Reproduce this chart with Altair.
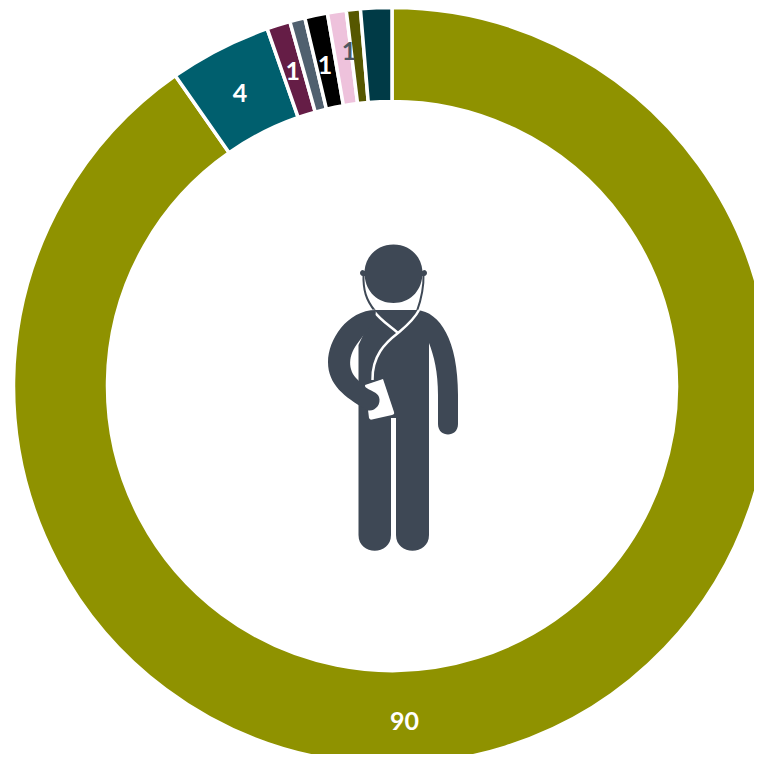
import altair as alt
import pandas as pd

segment_names = ["a", "b", "c", "d", "e", "f", "g", "h"]
segment_values = [90.3, 4.35, 1.0, 0.65, 0.97, 0.8, 0.6, 1.33]
segment_colors = ["#8F9200", "#005F6E", "#651D46", "#50606F", "#000000", "#EEC2DC", "#565700", "#003A46"]

label_texts = ["90", "4", "1", "1", "1"]
label_turns = [49.4, 92.4, 95.15, 96.74, 97.97]
label_radius = [334, 331, 331, 329, 339]
label_colors = ["#FFFFFF", "#FFFFFF", "#FFFFFF", "#FFFFFF", "#4F5763"]

INK = "#3E4855"
body_path = ("M375,310 L417,310 C440,312 458,340 458,395 L458,424 C458,438 438,438 438,424 L438,395 "
             "C438,372 434,356 429,343 L429,535 C429,556 396,556 396,535 L396,418 L391,418 L391,535 "
             "C391,556 358.5,556 358.5,535 L358.5,345 Z")
arm_path = ("M376,310 C347,310 328,340 328,362 C328,385 345,397 365,409 C372,414 382,406 379,397 "
            "C377,392 372,392 362,385 L358,380 C347,370 348,355 358.5,342 L375,320 Z")
phone_path = "M365,385 L383,379 L394,412 C394.5,414 394,414.5 392,415 L372,419.5 C370.5,420 369.5,419 369,418 Z"
head_path = ("M364.5,271 C366,255 378,244.5 393.5,244.5 C409,244.5 421,255 422.5,271 L424,270 C428,270 428,276 424,276 "
             "L422.3,276 C421,292 409,303 393.5,303 C378,303 366,292 364.7,276 L363,276 C359,276 359,270 363,270 Z")
wire_dark = "M363.5,274 C363,290 366,300 375,311 M423.5,274 C424,290 421,300 417,311"
wire_light = ("M373,310 C380,320 390,326 398,333 M419,310 C414,320 405,327 398,333 "
              "C385,343 372,356 372.5,380")

segments = pd.DataFrame({"name": segment_names, "value": segment_values, "idx": range(len(segment_names))})
labels = pd.DataFrame({"text": label_texts, "turn": label_turns, "r": label_radius, "color": label_colors})

theta_scale = alt.Scale(domain=[0, 100], range=[0, 6.283185307179586])
CX = alt.value(384)
CY = alt.value(378)

ring = alt.Chart(segments).mark_arc(radius=378.5, radius2=284.5, stroke="#FFFFFF", strokeWidth=3.5).encode(
    x=CX,
    y=CY,
    theta=alt.Theta("value:Q", stack=True, scale=theta_scale),
    order=alt.Order("idx:Q"),
    color=alt.Color("name:N", scale=alt.Scale(domain=segment_names, range=segment_colors), legend=None),
)

text = alt.Chart(labels).mark_text(font="Lato", fontWeight="bold", fontSize=25, align="center", baseline="middle", dy=2).encode(
    x=CX,
    y=CY,
    theta=alt.Theta("turn:Q", stack=None, scale=theta_scale),
    radius=alt.Radius("r:Q", scale=None),
    text="text:N",
    color=alt.Color("color:N", scale=None),
)


def glyph(path, fill=None, stroke=None, width=0):
    if fill:
        mark = alt.Chart(segments.head(1)).mark_point(shape=path, size=4, filled=True, fill=fill, opacity=1, strokeWidth=0)
    else:
        mark = alt.Chart(segments.head(1)).mark_point(shape=path, size=4, filled=False, stroke=stroke, opacity=1, strokeWidth=width)
    return mark.encode(x=alt.value(-8), y=alt.value(-8))


chart = alt.layer(
    ring,
    text,
    glyph(body_path, fill=INK),
    glyph(wire_dark, stroke=INK, width=2),
    glyph(wire_light, stroke="#FFFFFF", width=2.5),
    glyph(phone_path, fill="#FFFFFF"),
    glyph(arm_path, fill=INK),
    glyph(head_path, fill=INK),
).properties(width=746, height=746, padding=0, autosize=alt.AutoSizeParams(type="none")).configure_view(stroke=None)

chart.save("out.html", embed_options={"renderer": "svg", "actions": False})
